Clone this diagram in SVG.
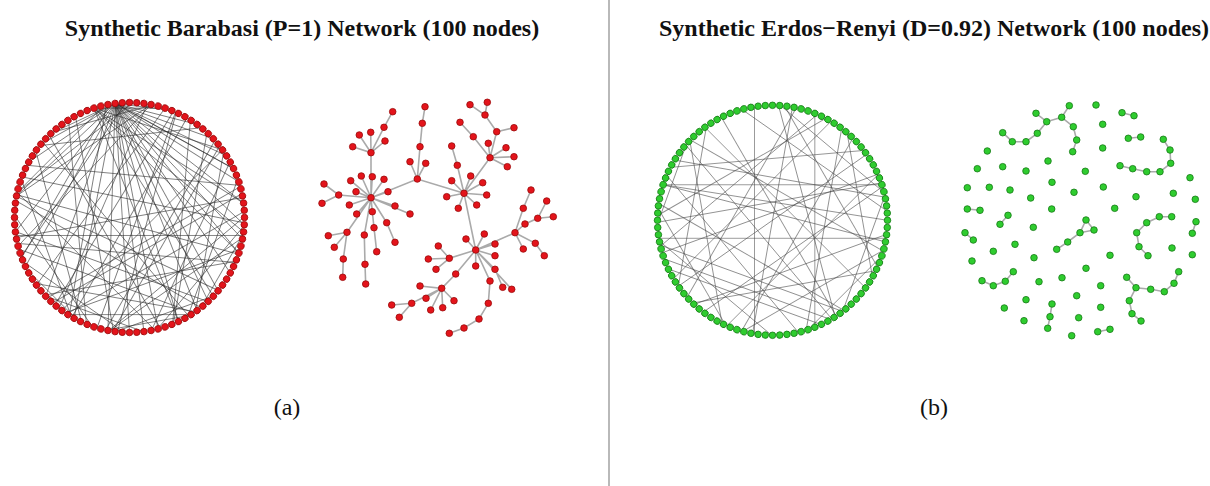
<svg xmlns="http://www.w3.org/2000/svg" xmlns:xlink="http://www.w3.org/1999/xlink" width="1210" height="486" viewBox="0 0 1210 486">
<style>
.title{font-family:"Liberation Serif","Times New Roman",serif;font-weight:bold;font-size:24px;fill:#111;text-anchor:middle}
.lab{font-family:"Liberation Serif","Times New Roman",serif;font-size:24px;fill:#111;text-anchor:middle}
.rn{fill:#e3141b;stroke:#9a0a0a;stroke-width:.8}
.gn{fill:#2fcc2f;stroke:#157a15;stroke-width:.8}
.ce1{stroke:#2a2a2a;stroke-opacity:.62;stroke-width:.9;fill:none}
.ce2{stroke:#444;stroke-opacity:.6;stroke-width:.9;fill:none}
.te{stroke:#aaa;stroke-width:1.6;fill:none}
</style>
<defs>
<circle id="cn" cx="0" cy="-115" r="3.3"/>
<circle id="dn" cx="0" cy="0" r="3.3"/>
<line id="k5" x1="-17.99" y1="-113.59" x2="17.99" y2="-113.59"/>
<line id="k8" x1="-28.6" y1="-111.39" x2="28.6" y2="-111.39"/>
<line id="k10" x1="-35.54" y1="-109.37" x2="35.54" y2="-109.37"/>
<line id="k12" x1="-42.33" y1="-106.92" x2="42.33" y2="-106.92"/>
<line id="k15" x1="-52.21" y1="-102.47" x2="52.21" y2="-102.47"/>
<line id="k18" x1="-61.62" y1="-97.1" x2="61.62" y2="-97.1"/>
<line id="k20" x1="-67.6" y1="-93.04" x2="67.6" y2="-93.04"/>
<line id="k22" x1="-73.3" y1="-88.61" x2="73.3" y2="-88.61"/>
<line id="k25" x1="-81.32" y1="-81.32" x2="81.32" y2="-81.32"/>
<line id="k28" x1="-88.61" y1="-73.3" x2="88.61" y2="-73.3"/>
<line id="k30" x1="-93.04" y1="-67.6" x2="93.04" y2="-67.6"/>
<line id="k32" x1="-97.1" y1="-61.62" x2="97.1" y2="-61.62"/>
<line id="k35" x1="-102.47" y1="-52.21" x2="102.47" y2="-52.21"/>
<line id="k38" x1="-106.92" y1="-42.33" x2="106.92" y2="-42.33"/>
<line id="k40" x1="-109.37" y1="-35.54" x2="109.37" y2="-35.54"/>
<line id="k42" x1="-111.39" y1="-28.6" x2="111.39" y2="-28.6"/>
<line id="k45" x1="-113.59" y1="-17.99" x2="113.59" y2="-17.99"/>
<line id="k48" x1="-114.77" y1="-7.22" x2="114.77" y2="-7.22"/>
<line id="k50" x1="-115" y1="0" x2="115" y2="0"/>
</defs>
<rect width="1210" height="486" fill="#fff"/>
<line id="divider" x1="609" y1="0" x2="609" y2="486" stroke="#8a8a8a" stroke-width="1.2"/>
<text class="title" x="302" y="36">Synthetic Barabasi (P=1) Network (100 nodes)</text>
<text class="title" x="934" y="36">Synthetic Erdos−Renyi (D=0.92) Network (100 nodes)</text>
<text class="lab" x="287" y="415">(a)</text>
<text class="lab" x="934" y="415">(b)</text>

<g id="connectors">
<g id="edges-a-circle" class="ce1" transform="translate(129.5,217.5)">
<use href="#k8" transform="rotate(7.2)"/><use href="#k12" transform="rotate(14.4)"/><use href="#k15" transform="rotate(19.8)"/><use href="#k18" transform="rotate(25.2)"/><use href="#k20" transform="rotate(28.8)"/><use href="#k22" transform="rotate(32.4)"/><use href="#k25" transform="rotate(37.8)"/><use href="#k28" transform="rotate(43.2)"/><use href="#k30" transform="rotate(46.8)"/><use href="#k32" transform="rotate(50.4)"/><use href="#k35" transform="rotate(55.8)"/><use href="#k38" transform="rotate(61.2)"/><use href="#k40" transform="rotate(64.8)"/><use href="#k42" transform="rotate(68.4)"/><use href="#k45" transform="rotate(73.8)"/><use href="#k48" transform="rotate(79.2)"/><use href="#k50" transform="rotate(82.8)"/>
<use href="#k10" transform="rotate(-25.2)"/><use href="#k15" transform="rotate(-34.2)"/><use href="#k20" transform="rotate(-43.2)"/><use href="#k25" transform="rotate(-52.2)"/><use href="#k30" transform="rotate(-61.2)"/><use href="#k35" transform="rotate(-70.2)"/><use href="#k40" transform="rotate(-79.2)"/><use href="#k45" transform="rotate(-88.2)"/><use href="#k48" transform="rotate(-93.6)"/>
<use href="#k10" transform="rotate(0)"/><use href="#k20" transform="rotate(18)"/><use href="#k28" transform="rotate(32.4)"/><use href="#k35" transform="rotate(45)"/><use href="#k42" transform="rotate(57.6)"/><use href="#k48" transform="rotate(68.4)"/><use href="#k12" transform="rotate(-28.8)"/><use href="#k22" transform="rotate(-37.8)"/><use href="#k32" transform="rotate(-46.8)"/><use href="#k40" transform="rotate(-54)"/><use href="#k45" transform="rotate(-58.5)"/>
<use href="#k15" transform="rotate(-15.3)"/><use href="#k25" transform="rotate(-6.3)"/><use href="#k38" transform="rotate(5.4)"/><use href="#k45" transform="rotate(11.7)"/><use href="#k18" transform="rotate(-45)"/><use href="#k30" transform="rotate(-55.8)"/><use href="#k42" transform="rotate(-66.6)"/>
<use href="#k20" transform="rotate(28.8)"/><use href="#k32" transform="rotate(39.6)"/><use href="#k25" transform="rotate(-34.2)"/>
<use href="#k45" transform="rotate(180)"/><use href="#k40" transform="rotate(120)"/><use href="#k35" transform="rotate(150)"/><use href="#k30" transform="rotate(200)"/><use href="#k25" transform="rotate(100)"/><use href="#k42" transform="rotate(240)"/><use href="#k38" transform="rotate(210)"/><use href="#k20" transform="rotate(130)"/><use href="#k15" transform="rotate(160)"/><use href="#k28" transform="rotate(255)"/><use href="#k32" transform="rotate(225)"/><use href="#k48" transform="rotate(195)"/><use href="#k45" transform="rotate(135)"/><use href="#k22" transform="rotate(110)"/><use href="#k12" transform="rotate(170)"/><use href="#k18" transform="rotate(215)"/><use href="#k40" transform="rotate(260)"/><use href="#k35" transform="rotate(95)"/><use href="#k30" transform="rotate(160)"/><use href="#k25" transform="rotate(190)"/><use href="#k42" transform="rotate(150)"/><use href="#k38" transform="rotate(120)"/><use href="#k50" transform="rotate(170)"/><use href="#k28" transform="rotate(140)"/><use href="#k32" transform="rotate(100)"/><use href="#k20" transform="rotate(235)"/><use href="#k45" transform="rotate(230)"/><use href="#k15" transform="rotate(200)"/><use href="#k35" transform="rotate(265)"/><use href="#k40" transform="rotate(185)"/><use href="#k48" transform="rotate(110)"/><use href="#k22" transform="rotate(250)"/><use href="#k30" transform="rotate(115)"/><use href="#k25" transform="rotate(145)"/><use href="#k12" transform="rotate(120)"/><use href="#k18" transform="rotate(180)"/><use href="#k42" transform="rotate(205)"/><use href="#k38" transform="rotate(280)"/><use href="#k10" transform="rotate(225)"/><use href="#k50" transform="rotate(120)"/><use href="#k32" transform="rotate(170)"/><use href="#k28" transform="rotate(300)"/><use href="#k45" transform="rotate(105)"/><use href="#k35" transform="rotate(200)"/><use href="#k40" transform="rotate(150)"/>
</g>
<g id="edges-b-circle" class="ce2" transform="translate(772.5,220.3)">
<use href="#k45" transform="rotate(-90)"/><use href="#k38" transform="rotate(90)"/><use href="#k45" transform="rotate(180)"/><use href="#k40" transform="rotate(0)"/><use href="#k45" transform="rotate(9)"/><use href="#k48" transform="rotate(14.4)"/><use href="#k35" transform="rotate(-40)"/><use href="#k30" transform="rotate(60)"/><use href="#k25" transform="rotate(150)"/><use href="#k42" transform="rotate(120)"/><use href="#k38" transform="rotate(-150)"/><use href="#k20" transform="rotate(-120)"/><use href="#k32" transform="rotate(200)"/><use href="#k28" transform="rotate(35)"/><use href="#k45" transform="rotate(45)"/><use href="#k50" transform="rotate(100)"/><use href="#k35" transform="rotate(160)"/><use href="#k40" transform="rotate(-60)"/><use href="#k22" transform="rotate(80)"/><use href="#k30" transform="rotate(-100)"/><use href="#k42" transform="rotate(30)"/><use href="#k48" transform="rotate(-20)"/><use href="#k25" transform="rotate(-160)"/><use href="#k38" transform="rotate(135)"/><use href="#k18" transform="rotate(110)"/><use href="#k45" transform="rotate(-130)"/><use href="#k32" transform="rotate(-30)"/><use href="#k28" transform="rotate(200)"/><use href="#k40" transform="rotate(75)"/><use href="#k35" transform="rotate(230)"/><use href="#k15" transform="rotate(135)"/><use href="#k42" transform="rotate(-45)"/><use href="#k30" transform="rotate(170)"/><use href="#k48" transform="rotate(60)"/><use href="#k20" transform="rotate(40)"/><use href="#k25" transform="rotate(-80)"/><use href="#k38" transform="rotate(10)"/><use href="#k45" transform="rotate(-10)"/><use href="#k12" transform="rotate(-70)"/><use href="#k35" transform="rotate(100)"/><use href="#k50" transform="rotate(-35)"/><use href="#k22" transform="rotate(-140)"/><use href="#k40" transform="rotate(145)"/><use href="#k32" transform="rotate(-5)"/>
</g>
<path id="edges-a-tree" class="te" d="M392.7 111.7L384 127.3L371 152.7M370.7 132.3L371 152.7M359.3 135L371 152.7M385 141L371 152.7M352.7 146.7L371 152.7L371 197.7
M371 197.7L361.3 176M371 197.7L372.3 176.7M371 197.7L384 179.3M371 197.7L350.7 180.7M371 197.7L356 191.7M371 197.7L388 191.7M371 197.7L349.3 205M371 197.7L395 206M371 197.7L410 214M371 197.7L356.7 214M371 197.7L347 232.3
M371 197.7L372.3 211.7L374 227.7L376.7 251.7M371 197.7L386.7 222.7L395 242.3M371 197.7L364.3 235L365 264.3L365.7 284
M347 232.3L328.3 235.7M347 232.3L334.3 247.3M347 232.3L343.3 259L342.7 277.3M371 197.7L338.7 195L324 184M338.7 195L322 203.3
M371 197.7L417.3 179L464 193.3M417.3 179L410 161.7M417.3 179L425.7 163.3M417.3 179L420 146.7L422.3 123.3L425 106.7
M451.7 146L457.3 165.3L464 193.3M464 193.3L451.7 180.7M464 193.3L470.7 176M464 193.3L482.7 182.7M464 193.3L486.7 195M464 193.3L446.7 196.7M464 193.3L458.3 208.3M464 193.3L476.7 205M464 193.3L490 157.7M464 193.3L475.7 250
M490 157.7L488.3 143.3M490 157.7L496.7 131.7L485 115L470 104.7M485 115L487.3 102.3M496.7 131.7L514 127.7M490 157.7L473.3 136.7L460 122.3M490 157.7L506 147.7M490 157.7L514 156.7M490 157.7L507.3 166.7
M475.7 250L466 239M475.7 250L484.3 234M475.7 250L495 244M475.7 250L495 255.7M475.7 250L475.7 266M475.7 250L495 269.3L502.7 287.3M475.7 250L511.7 289.3M475.7 250L490 281L488.3 303.3L479 319L464 328L449.3 333.3
M475.7 250L515 232.7L523.3 208.3L531 190M515 232.7L525 224L537.7 218.3L546.7 201M537.7 218.3L553.3 216.7M515 232.7L523.3 249M515 232.7L535.3 243.3L544.3 255.7
M475.7 250L449.3 258.3L438.3 246M449.3 258.3L428.3 259M449.3 258.3L436 269.3
M475.7 250L455.7 274L441.7 288.3L420 286M441.7 288.3L426 298.3M441.7 288.3L411.7 303.3L391.7 305M411.7 303.3L399.3 317.3M441.7 288.3L430.7 310M441.7 288.3L442.7 307.7M441.7 288.3L454 300.7"/>
<path id="edges-b-scatter" class="te" d="M1036 113.3L1046.7 121.7L1061.7 117.3L1069.3 105.7M1061.7 117.3L1073.3 126.7L1076.7 140L1072.7 151.7M1046.7 121.7L1037.3 133.3L1026 141.7L1012.3 141.7L1002.7 132.7
M1122 112.7L1134 115.7M1128.3 138.3L1140.7 137M1163.3 139.3L1170 150L1170.7 163.3L1160 171.7L1146.7 171.7L1132.7 168.7L1120 165.7
M967.3 209L980 210.3M1008 215.3L1000 224.3M1086 220L1080 232.7L1094 230L1086 220M1080 232.7L1067.7 242L1056.7 249.3
M1171.7 216.7L1159.3 216.7L1146.7 222.7L1136.7 232.7L1139 246.7L1148 255.7M1196 221.7L1192.3 233.3M965 232.7L973.3 240
M982 280.7L993.3 285.7L1005.3 281.3L1013.3 271.7M1126.7 277.3L1136 287.7L1150.7 289.3L1164.3 291.7L1174 283.3L1178.7 271.7M1136 287.7L1129.3 300.7L1132 313.7L1141 321
M1052 304L1050 316.7L1047.7 328.3M1097.7 331.7L1110 329.3"/>
</g>

<g id="nodes-a-circle" class="rn" transform="translate(129.5,217.5)">
<use href="#cn" transform="rotate(0)"/><use href="#cn" transform="rotate(3.6)"/><use href="#cn" transform="rotate(7.2)"/><use href="#cn" transform="rotate(10.8)"/><use href="#cn" transform="rotate(14.4)"/><use href="#cn" transform="rotate(18)"/><use href="#cn" transform="rotate(21.6)"/><use href="#cn" transform="rotate(25.2)"/><use href="#cn" transform="rotate(28.8)"/><use href="#cn" transform="rotate(32.4)"/><use href="#cn" transform="rotate(36)"/><use href="#cn" transform="rotate(39.6)"/><use href="#cn" transform="rotate(43.2)"/><use href="#cn" transform="rotate(46.8)"/><use href="#cn" transform="rotate(50.4)"/><use href="#cn" transform="rotate(54)"/><use href="#cn" transform="rotate(57.6)"/><use href="#cn" transform="rotate(61.2)"/><use href="#cn" transform="rotate(64.8)"/><use href="#cn" transform="rotate(68.4)"/><use href="#cn" transform="rotate(72)"/><use href="#cn" transform="rotate(75.6)"/><use href="#cn" transform="rotate(79.2)"/><use href="#cn" transform="rotate(82.8)"/><use href="#cn" transform="rotate(86.4)"/><use href="#cn" transform="rotate(90)"/><use href="#cn" transform="rotate(93.6)"/><use href="#cn" transform="rotate(97.2)"/><use href="#cn" transform="rotate(100.8)"/><use href="#cn" transform="rotate(104.4)"/><use href="#cn" transform="rotate(108)"/><use href="#cn" transform="rotate(111.6)"/><use href="#cn" transform="rotate(115.2)"/><use href="#cn" transform="rotate(118.8)"/><use href="#cn" transform="rotate(122.4)"/><use href="#cn" transform="rotate(126)"/><use href="#cn" transform="rotate(129.6)"/><use href="#cn" transform="rotate(133.2)"/><use href="#cn" transform="rotate(136.8)"/><use href="#cn" transform="rotate(140.4)"/><use href="#cn" transform="rotate(144)"/><use href="#cn" transform="rotate(147.6)"/><use href="#cn" transform="rotate(151.2)"/><use href="#cn" transform="rotate(154.8)"/><use href="#cn" transform="rotate(158.4)"/><use href="#cn" transform="rotate(162)"/><use href="#cn" transform="rotate(165.6)"/><use href="#cn" transform="rotate(169.2)"/><use href="#cn" transform="rotate(172.8)"/><use href="#cn" transform="rotate(176.4)"/><use href="#cn" transform="rotate(180)"/><use href="#cn" transform="rotate(183.6)"/><use href="#cn" transform="rotate(187.2)"/><use href="#cn" transform="rotate(190.8)"/><use href="#cn" transform="rotate(194.4)"/><use href="#cn" transform="rotate(198)"/><use href="#cn" transform="rotate(201.6)"/><use href="#cn" transform="rotate(205.2)"/><use href="#cn" transform="rotate(208.8)"/><use href="#cn" transform="rotate(212.4)"/><use href="#cn" transform="rotate(216)"/><use href="#cn" transform="rotate(219.6)"/><use href="#cn" transform="rotate(223.2)"/><use href="#cn" transform="rotate(226.8)"/><use href="#cn" transform="rotate(230.4)"/><use href="#cn" transform="rotate(234)"/><use href="#cn" transform="rotate(237.6)"/><use href="#cn" transform="rotate(241.2)"/><use href="#cn" transform="rotate(244.8)"/><use href="#cn" transform="rotate(248.4)"/><use href="#cn" transform="rotate(252)"/><use href="#cn" transform="rotate(255.6)"/><use href="#cn" transform="rotate(259.2)"/><use href="#cn" transform="rotate(262.8)"/><use href="#cn" transform="rotate(266.4)"/><use href="#cn" transform="rotate(270)"/><use href="#cn" transform="rotate(273.6)"/><use href="#cn" transform="rotate(277.2)"/><use href="#cn" transform="rotate(280.8)"/><use href="#cn" transform="rotate(284.4)"/><use href="#cn" transform="rotate(288)"/><use href="#cn" transform="rotate(291.6)"/><use href="#cn" transform="rotate(295.2)"/><use href="#cn" transform="rotate(298.8)"/><use href="#cn" transform="rotate(302.4)"/><use href="#cn" transform="rotate(306)"/><use href="#cn" transform="rotate(309.6)"/><use href="#cn" transform="rotate(313.2)"/><use href="#cn" transform="rotate(316.8)"/><use href="#cn" transform="rotate(320.4)"/><use href="#cn" transform="rotate(324)"/><use href="#cn" transform="rotate(327.6)"/><use href="#cn" transform="rotate(331.2)"/><use href="#cn" transform="rotate(334.8)"/><use href="#cn" transform="rotate(338.4)"/><use href="#cn" transform="rotate(342)"/><use href="#cn" transform="rotate(345.6)"/><use href="#cn" transform="rotate(349.2)"/><use href="#cn" transform="rotate(352.8)"/><use href="#cn" transform="rotate(356.4)"/>
</g>
<g id="nodes-b-circle" class="gn" transform="translate(772.5,220.3)">
<use href="#cn" transform="rotate(0)"/><use href="#cn" transform="rotate(3.6)"/><use href="#cn" transform="rotate(7.2)"/><use href="#cn" transform="rotate(10.8)"/><use href="#cn" transform="rotate(14.4)"/><use href="#cn" transform="rotate(18)"/><use href="#cn" transform="rotate(21.6)"/><use href="#cn" transform="rotate(25.2)"/><use href="#cn" transform="rotate(28.8)"/><use href="#cn" transform="rotate(32.4)"/><use href="#cn" transform="rotate(36)"/><use href="#cn" transform="rotate(39.6)"/><use href="#cn" transform="rotate(43.2)"/><use href="#cn" transform="rotate(46.8)"/><use href="#cn" transform="rotate(50.4)"/><use href="#cn" transform="rotate(54)"/><use href="#cn" transform="rotate(57.6)"/><use href="#cn" transform="rotate(61.2)"/><use href="#cn" transform="rotate(64.8)"/><use href="#cn" transform="rotate(68.4)"/><use href="#cn" transform="rotate(72)"/><use href="#cn" transform="rotate(75.6)"/><use href="#cn" transform="rotate(79.2)"/><use href="#cn" transform="rotate(82.8)"/><use href="#cn" transform="rotate(86.4)"/><use href="#cn" transform="rotate(90)"/><use href="#cn" transform="rotate(93.6)"/><use href="#cn" transform="rotate(97.2)"/><use href="#cn" transform="rotate(100.8)"/><use href="#cn" transform="rotate(104.4)"/><use href="#cn" transform="rotate(108)"/><use href="#cn" transform="rotate(111.6)"/><use href="#cn" transform="rotate(115.2)"/><use href="#cn" transform="rotate(118.8)"/><use href="#cn" transform="rotate(122.4)"/><use href="#cn" transform="rotate(126)"/><use href="#cn" transform="rotate(129.6)"/><use href="#cn" transform="rotate(133.2)"/><use href="#cn" transform="rotate(136.8)"/><use href="#cn" transform="rotate(140.4)"/><use href="#cn" transform="rotate(144)"/><use href="#cn" transform="rotate(147.6)"/><use href="#cn" transform="rotate(151.2)"/><use href="#cn" transform="rotate(154.8)"/><use href="#cn" transform="rotate(158.4)"/><use href="#cn" transform="rotate(162)"/><use href="#cn" transform="rotate(165.6)"/><use href="#cn" transform="rotate(169.2)"/><use href="#cn" transform="rotate(172.8)"/><use href="#cn" transform="rotate(176.4)"/><use href="#cn" transform="rotate(180)"/><use href="#cn" transform="rotate(183.6)"/><use href="#cn" transform="rotate(187.2)"/><use href="#cn" transform="rotate(190.8)"/><use href="#cn" transform="rotate(194.4)"/><use href="#cn" transform="rotate(198)"/><use href="#cn" transform="rotate(201.6)"/><use href="#cn" transform="rotate(205.2)"/><use href="#cn" transform="rotate(208.8)"/><use href="#cn" transform="rotate(212.4)"/><use href="#cn" transform="rotate(216)"/><use href="#cn" transform="rotate(219.6)"/><use href="#cn" transform="rotate(223.2)"/><use href="#cn" transform="rotate(226.8)"/><use href="#cn" transform="rotate(230.4)"/><use href="#cn" transform="rotate(234)"/><use href="#cn" transform="rotate(237.6)"/><use href="#cn" transform="rotate(241.2)"/><use href="#cn" transform="rotate(244.8)"/><use href="#cn" transform="rotate(248.4)"/><use href="#cn" transform="rotate(252)"/><use href="#cn" transform="rotate(255.6)"/><use href="#cn" transform="rotate(259.2)"/><use href="#cn" transform="rotate(262.8)"/><use href="#cn" transform="rotate(266.4)"/><use href="#cn" transform="rotate(270)"/><use href="#cn" transform="rotate(273.6)"/><use href="#cn" transform="rotate(277.2)"/><use href="#cn" transform="rotate(280.8)"/><use href="#cn" transform="rotate(284.4)"/><use href="#cn" transform="rotate(288)"/><use href="#cn" transform="rotate(291.6)"/><use href="#cn" transform="rotate(295.2)"/><use href="#cn" transform="rotate(298.8)"/><use href="#cn" transform="rotate(302.4)"/><use href="#cn" transform="rotate(306)"/><use href="#cn" transform="rotate(309.6)"/><use href="#cn" transform="rotate(313.2)"/><use href="#cn" transform="rotate(316.8)"/><use href="#cn" transform="rotate(320.4)"/><use href="#cn" transform="rotate(324)"/><use href="#cn" transform="rotate(327.6)"/><use href="#cn" transform="rotate(331.2)"/><use href="#cn" transform="rotate(334.8)"/><use href="#cn" transform="rotate(338.4)"/><use href="#cn" transform="rotate(342)"/><use href="#cn" transform="rotate(345.6)"/><use href="#cn" transform="rotate(349.2)"/><use href="#cn" transform="rotate(352.8)"/><use href="#cn" transform="rotate(356.4)"/>
</g>
<g id="nodes-a-tree" class="rn">
<use href="#dn" x="371" y="197.7"/><use href="#dn" x="371" y="152.7"/><use href="#dn" x="392.7" y="111.7"/><use href="#dn" x="384" y="127.3"/><use href="#dn" x="370.7" y="132.3"/><use href="#dn" x="359.3" y="135"/><use href="#dn" x="385" y="141"/><use href="#dn" x="352.7" y="146.7"/>
<use href="#dn" x="361.3" y="176"/><use href="#dn" x="372.3" y="176.7"/><use href="#dn" x="384" y="179.3"/><use href="#dn" x="350.7" y="180.7"/><use href="#dn" x="356" y="191.7"/><use href="#dn" x="388" y="191.7"/><use href="#dn" x="349.3" y="205"/><use href="#dn" x="395" y="206"/><use href="#dn" x="410" y="214"/><use href="#dn" x="356.7" y="214"/><use href="#dn" x="372.3" y="211.7"/><use href="#dn" x="386.7" y="222.7"/><use href="#dn" x="395" y="242.3"/><use href="#dn" x="374" y="227.7"/><use href="#dn" x="376.7" y="251.7"/><use href="#dn" x="364.3" y="235"/><use href="#dn" x="365" y="264.3"/><use href="#dn" x="365.7" y="284"/><use href="#dn" x="347" y="232.3"/><use href="#dn" x="328.3" y="235.7"/><use href="#dn" x="334.3" y="247.3"/><use href="#dn" x="343.3" y="259"/><use href="#dn" x="342.7" y="277.3"/><use href="#dn" x="338.7" y="195"/><use href="#dn" x="324" y="184"/><use href="#dn" x="322" y="203.3"/>
<use href="#dn" x="417.3" y="179"/><use href="#dn" x="410" y="161.7"/><use href="#dn" x="425.7" y="163.3"/><use href="#dn" x="420" y="146.7"/><use href="#dn" x="422.3" y="123.3"/><use href="#dn" x="425" y="106.7"/>
<use href="#dn" x="464" y="193.3"/><use href="#dn" x="451.7" y="146"/><use href="#dn" x="457.3" y="165.3"/><use href="#dn" x="451.7" y="180.7"/><use href="#dn" x="470.7" y="176"/><use href="#dn" x="482.7" y="182.7"/><use href="#dn" x="486.7" y="195"/><use href="#dn" x="446.7" y="196.7"/><use href="#dn" x="458.3" y="208.3"/><use href="#dn" x="476.7" y="205"/>
<use href="#dn" x="490" y="157.7"/><use href="#dn" x="488.3" y="143.3"/><use href="#dn" x="496.7" y="131.7"/><use href="#dn" x="485" y="115"/><use href="#dn" x="470" y="104.7"/><use href="#dn" x="487.3" y="102.3"/><use href="#dn" x="514" y="127.7"/><use href="#dn" x="473.3" y="136.7"/><use href="#dn" x="460" y="122.3"/><use href="#dn" x="506" y="147.7"/><use href="#dn" x="514" y="156.7"/><use href="#dn" x="507.3" y="166.7"/>
<use href="#dn" x="475.7" y="250"/><use href="#dn" x="466" y="239"/><use href="#dn" x="484.3" y="234"/><use href="#dn" x="495" y="244"/><use href="#dn" x="495" y="255.7"/><use href="#dn" x="475.7" y="266"/><use href="#dn" x="495" y="269.3"/><use href="#dn" x="502.7" y="287.3"/><use href="#dn" x="511.7" y="289.3"/><use href="#dn" x="490" y="281"/><use href="#dn" x="488.3" y="303.3"/><use href="#dn" x="479" y="319"/><use href="#dn" x="464" y="328"/><use href="#dn" x="449.3" y="333.3"/>
<use href="#dn" x="515" y="232.7"/><use href="#dn" x="523.3" y="208.3"/><use href="#dn" x="531" y="190"/><use href="#dn" x="525" y="224"/><use href="#dn" x="537.7" y="218.3"/><use href="#dn" x="546.7" y="201"/><use href="#dn" x="553.3" y="216.7"/><use href="#dn" x="523.3" y="249"/><use href="#dn" x="535.3" y="243.3"/><use href="#dn" x="544.3" y="255.7"/>
<use href="#dn" x="449.3" y="258.3"/><use href="#dn" x="438.3" y="246"/><use href="#dn" x="428.3" y="259"/><use href="#dn" x="436" y="269.3"/><use href="#dn" x="455.7" y="274"/><use href="#dn" x="441.7" y="288.3"/><use href="#dn" x="420" y="286"/><use href="#dn" x="426" y="298.3"/><use href="#dn" x="411.7" y="303.3"/><use href="#dn" x="391.7" y="305"/><use href="#dn" x="399.3" y="317.3"/><use href="#dn" x="430.7" y="310"/><use href="#dn" x="442.7" y="307.7"/><use href="#dn" x="454" y="300.7"/>
</g>
<g id="nodes-b-scatter" class="gn">
<use href="#dn" x="1069.3" y="105.7"/><use href="#dn" x="1096" y="105"/><use href="#dn" x="1036" y="113.3"/><use href="#dn" x="1061.7" y="117.3"/><use href="#dn" x="1046.7" y="121.7"/><use href="#dn" x="1073.3" y="126.7"/><use href="#dn" x="1076.7" y="140"/><use href="#dn" x="1072.7" y="151.7"/><use href="#dn" x="1037.3" y="133.3"/><use href="#dn" x="1026" y="141.7"/><use href="#dn" x="1012.3" y="141.7"/><use href="#dn" x="1002.7" y="132.7"/>
<use href="#dn" x="1122" y="112.7"/><use href="#dn" x="1134" y="115.7"/><use href="#dn" x="1102.7" y="124.3"/><use href="#dn" x="1128.3" y="138.3"/><use href="#dn" x="1140.7" y="137"/><use href="#dn" x="1163.3" y="139.3"/><use href="#dn" x="1170" y="150"/><use href="#dn" x="1170.7" y="163.3"/><use href="#dn" x="1160" y="171.7"/><use href="#dn" x="1146.7" y="171.7"/><use href="#dn" x="1132.7" y="168.7"/><use href="#dn" x="1120" y="165.7"/><use href="#dn" x="1102.7" y="148"/>
<use href="#dn" x="987.3" y="151"/><use href="#dn" x="977.3" y="168.7"/><use href="#dn" x="1002.7" y="166.7"/><use href="#dn" x="1026" y="171"/><use href="#dn" x="1048" y="161"/><use href="#dn" x="1085.3" y="171.3"/><use href="#dn" x="967.3" y="187.7"/><use href="#dn" x="989.3" y="187.3"/><use href="#dn" x="1010" y="190"/><use href="#dn" x="1052" y="182.3"/><use href="#dn" x="1074" y="192.3"/><use href="#dn" x="1103.3" y="187"/><use href="#dn" x="1030.7" y="198"/><use href="#dn" x="1136" y="196.7"/><use href="#dn" x="1173.3" y="193.3"/><use href="#dn" x="1190" y="177.7"/><use href="#dn" x="1195.3" y="199.3"/>
<use href="#dn" x="967.3" y="209"/><use href="#dn" x="980" y="210.3"/><use href="#dn" x="1008" y="215.3"/><use href="#dn" x="1000" y="224.3"/><use href="#dn" x="1051.7" y="209"/><use href="#dn" x="1114.7" y="208.3"/><use href="#dn" x="1086" y="220"/><use href="#dn" x="1094" y="230"/><use href="#dn" x="1080" y="232.7"/><use href="#dn" x="1067.7" y="242"/><use href="#dn" x="1056.7" y="249.3"/>
<use href="#dn" x="1159.3" y="216.7"/><use href="#dn" x="1171.7" y="216.7"/><use href="#dn" x="1146.7" y="222.7"/><use href="#dn" x="1136.7" y="232.7"/><use href="#dn" x="1139" y="246.7"/><use href="#dn" x="1148" y="255.7"/><use href="#dn" x="1196" y="221.7"/><use href="#dn" x="1192.3" y="233.3"/><use href="#dn" x="965" y="232.7"/><use href="#dn" x="973.3" y="240"/>
<use href="#dn" x="1033.3" y="227.3"/><use href="#dn" x="1015" y="244.3"/><use href="#dn" x="993.3" y="251.3"/><use href="#dn" x="972" y="261"/><use href="#dn" x="1034" y="257.7"/><use href="#dn" x="1110" y="255.3"/><use href="#dn" x="1172" y="248"/><use href="#dn" x="1192.3" y="254.7"/><use href="#dn" x="1086" y="268.3"/>
<use href="#dn" x="1013.3" y="271.7"/><use href="#dn" x="1005.3" y="281.3"/><use href="#dn" x="993.3" y="285.7"/><use href="#dn" x="982" y="280.7"/><use href="#dn" x="1039" y="281.7"/><use href="#dn" x="1062" y="277.7"/><use href="#dn" x="1100.7" y="285.7"/>
<use href="#dn" x="1126.7" y="277.3"/><use href="#dn" x="1136" y="287.7"/><use href="#dn" x="1150.7" y="289.3"/><use href="#dn" x="1164.3" y="291.7"/><use href="#dn" x="1174" y="283.3"/><use href="#dn" x="1178.7" y="271.7"/><use href="#dn" x="1129.3" y="300.7"/><use href="#dn" x="1132" y="313.7"/><use href="#dn" x="1141" y="321"/>
<use href="#dn" x="1026" y="299.7"/><use href="#dn" x="1076.7" y="295.7"/><use href="#dn" x="1052" y="304"/><use href="#dn" x="1050" y="316.7"/><use href="#dn" x="1047.7" y="328.3"/><use href="#dn" x="1004.3" y="308"/><use href="#dn" x="1100.7" y="307.3"/><use href="#dn" x="1024" y="320.7"/><use href="#dn" x="1078.7" y="317.7"/><use href="#dn" x="1097.7" y="331.7"/><use href="#dn" x="1110" y="329.3"/><use href="#dn" x="1071.7" y="335.7"/>
</g>
</svg>
